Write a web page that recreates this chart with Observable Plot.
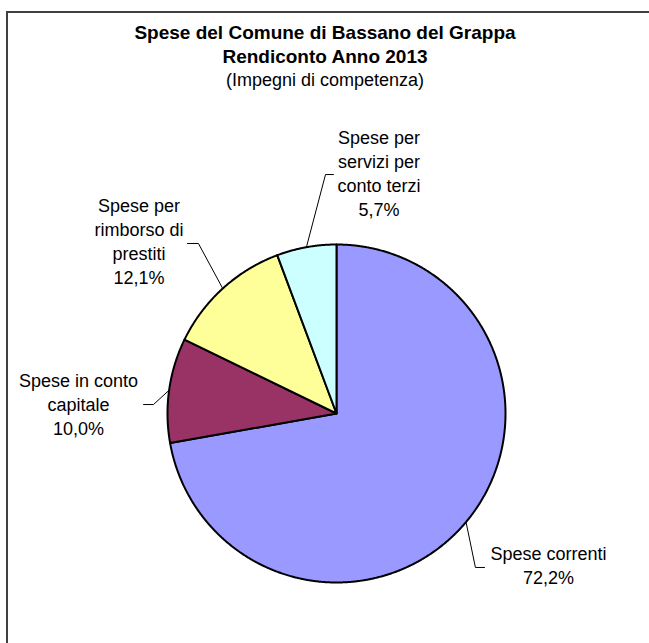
<!DOCTYPE html>
<html><head><meta charset="utf-8">
<script src="https://cdn.jsdelivr.net/npm/d3@7"></script>
<script src="https://cdn.jsdelivr.net/npm/@observablehq/plot@0.6"></script>
<style>
html,body{margin:0;padding:0;background:#fff;overflow:hidden;}
#wrap{position:relative;width:649px;height:643px;overflow:hidden;}
#border{position:absolute;left:6px;top:11px;width:700px;height:700px;border-top:2px solid #404040;border-left:2px solid #404040;}
#chart{position:absolute;left:0;top:0;}
</style></head><body>
<div id="wrap"><div id="border"></div><div id="chart"></div></div>
<script>
// ---- data ----
const categories = ["Spese correnti", "Spese in conto capitale", "Spese per rimborso di prestiti", "Spese per servizi per conto terzi"];
const labelNames = ["Spese correnti", "Spese in conto\ncapitale", "Spese per\nrimborso di\nprestiti", "Spese per\nservizi per\nconto terzi"];
const values = [72.2, 10.0, 12.1, 5.7];
const colors = ["#9999FF", "#993366", "#FFFF99", "#CCFFFF"];
const titleLines = ["Spese del Comune di Bassano del Grappa", "Rendiconto Anno 2013", "(Impegni di competenza)"];

// ---- layout (pixels / pie-radius units) ----
const W = 649, H = 643, CX = 336, CY = 413, R = 169;
const labelLayout = [
  {lx: 1.254, ly: -0.891, bx: 0.822, ex: 0.876, ey: -0.911},
  {lx: -1.527, ly: 0.059, bx: -1.083, ex: -1.142, ey: 0.053},
  {lx: -1.169, ly: 1.024, bx: -0.817, ex: -0.882, ey: 1.006},
  {lx: 0.251, ly: 1.426, bx: -0.065, ex: -0.018, ey: 1.414}
];
const FONT = "'Liberation Sans', Arial, Helvetica, sans-serif";

const arcs = d3.pie().sort(null).value(d => d)(values);
const fmt = v => v.toFixed(1).replace(".", ",") + "%";

const slicePts = [];
arcs.forEach((a, i) => {
  slicePts.push({x: 0, y: 0, k: i, cat: categories[i]});
  const n = Math.max(2, Math.ceil((a.endAngle - a.startAngle) / 0.005));
  for (let j = 0; j <= n; j++) {
    const t = a.startAngle + (a.endAngle - a.startAngle) * j / n;
    slicePts.push({x: Math.sin(t), y: Math.cos(t), k: i, cat: categories[i]});
  }
});

const leaderPts = [];
const labelData = [];
arcs.forEach((a, i) => {
  const m = (a.startAngle + a.endAngle) / 2;
  const L = labelLayout[i];
  leaderPts.push({x: Math.sin(m), y: Math.cos(m), k: i});
  leaderPts.push({x: L.bx, y: L.ey, k: i});
  leaderPts.push({x: L.ex, y: L.ey, k: i});
  labelData.push({x: L.lx, y: L.ly, t: labelNames[i] + "\n" + fmt(values[i])});
});

const chart = Plot.plot({
  width: W, height: H,
  margin: 0,
  style: {background: "transparent", fontFamily: FONT},
  x: {domain: [-CX / R, (W - CX) / R], range: [0, W], axis: null},
  y: {domain: [(CY - H) / R, CY / R], range: [H, 0], axis: null},
  color: {domain: categories, range: colors},
  marks: [
    Plot.line(slicePts, {x: "x", y: "y", z: "k", fill: "cat", stroke: "#000", strokeWidth: 2, curve: "linear-closed", strokeLinejoin: "round"}),
    Plot.line(leaderPts, {x: "x", y: "y", z: "k", stroke: "#000", strokeWidth: 1}),
    Plot.text(labelData, {x: "x", y: "y", text: "t", fontSize: 18, lineHeight: 1.333, fontFamily: FONT, fill: "#000", textAnchor: "middle", lineAnchor: "middle"}),
    Plot.text([titleLines[0]], {text: d => d, frameAnchor: "top", dy: 38, lineAnchor: "bottom", fontSize: 19, fontWeight: "bold", fontFamily: FONT, fill: "#000"}),
    Plot.text([titleLines[1]], {text: d => d, frameAnchor: "top", dy: 62, lineAnchor: "bottom", fontSize: 19, fontWeight: "bold", fontFamily: FONT, fill: "#000"}),
    Plot.text([titleLines[2]], {text: d => d, frameAnchor: "top", dy: 85, lineAnchor: "bottom", fontSize: 18, fontFamily: FONT, fill: "#000"})
  ]
});
document.getElementById("chart").appendChild(chart);
</script>
</body></html>
